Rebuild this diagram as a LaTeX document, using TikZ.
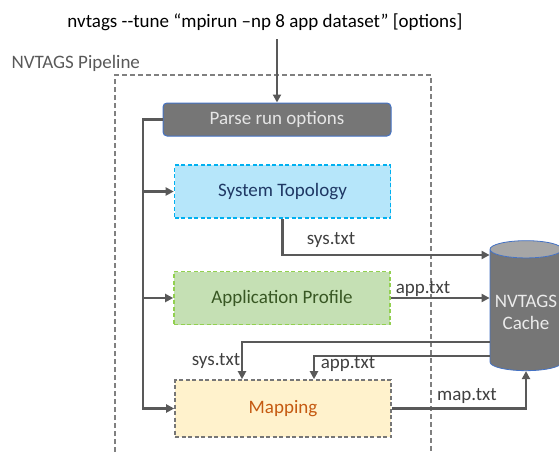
\documentclass[tikz,border=0pt]{standalone}
\usepackage{fontspec}
\setmainfont{Carlito}
\newfontfamily\cmdfont{Carlito}
\usepackage{tikz}
\usetikzlibrary{positioning,arrows.meta,shapes.geometric}
\definecolor{linegray}{RGB}{89,89,89}
\definecolor{parsefill}{RGB}{118,118,118}
\definecolor{parseedge}{RGB}{68,114,196}
\definecolor{topofill}{RGB}{182,230,250}
\definecolor{topoedge}{RGB}{0,176,240}
\definecolor{topotext}{RGB}{31,56,100}
\definecolor{proffill}{RGB}{197,224,180}
\definecolor{profedge}{RGB}{146,208,80}
\definecolor{proftext}{RGB}{56,87,35}
\definecolor{mapfill}{RGB}{255,242,204}
\definecolor{maptext}{RGB}{197,90,17}
\definecolor{cachetop}{RGB}{166,166,166}

\begin{document}
\begin{tikzpicture}[x=1pt, y=-1pt, font=\fontsize{19}{22}\selectfont,
    >={Triangle[length=8pt, width=8pt]},
    conn/.style={draw=linegray, line width=2.5pt},
    stage/.style={dash pattern=on 4pt off 2.5pt, line width=1.6pt, minimum width=216pt,
                  minimum height=53pt, align=center},
    lbl/.style={text=black!75}]
  \useasboundingbox (0,0) rectangle (559,453);
  % command line and pipeline frame
  \node[font=\cmdfont\fontsize{19}{22}\selectfont] (cmd) at (265,22) {nvtags --tune “mpirun –np 8 app dataset” [options]};
  \node[text=linegray, anchor=west] (pipe) at (8,63) {NVTAGS Pipeline};
  \draw[dash pattern=on 5pt off 3pt, draw=black!50, line width=1.3pt]
    (115,460) -- (115,75) -- (431,75) -- (431,460);
  % stages
  \node[draw=parseedge, fill=parsefill, text=black!10, rounded corners=4pt, line width=1pt,
        minimum width=228pt, minimum height=33pt] (parse) at (277,119.5) {Parse run options};
  \node[stage, draw=topoedge, fill=topofill, text=topotext] (topo) at (282.5,191.5) {System Topology};
  \node[stage, draw=profedge, fill=proffill, text=proftext] (prof) at (282,298) {Application Profile};
  \node[stage, draw=parsefill, fill=mapfill, text=maptext, minimum height=57pt] (map) at (283,408.5) {Mapping};
  \node[cylinder, shape border rotate=90, aspect=0.25, draw=parseedge, line width=0.8pt,
        cylinder uses custom fill, cylinder body fill=parsefill, cylinder end fill=cachetop,
        minimum width=72pt, minimum height=130pt, align=center, text=black!8] (cache) at (526,312) {NVTAGS\\ Cache};
  \coordinate (bus) at (143,0);
  % connectors
  \draw[conn, ->] (parse.north |- 0,39) -- (parse.north);
  \draw[conn, ->] (parse.west) -| (bus |- map.west) -- (map.west);
  \draw[conn, ->] (bus |- topo.west) -- (topo.west);
  \draw[conn, ->] (bus |- prof.west) -- (prof.west);
  \draw[conn, ->] (topo.south) |- (cache.west |- 0,255);
  \draw[conn, ->] (prof.east) -- (cache.west |- prof.east);
  \draw[conn, ->] (cache.west |- 0,342) -| (map.north -| 242,0);
  \draw[conn, ->] (cache.west |- 0,356) -| (map.north -| 314,0);
  \draw[conn, ->] (map.east) -| (cache.south);
  % file labels
  \node[lbl] (sysa) at (331,240) {sys.txt};
  \node[lbl] (appa) at (423,289) {app.txt};
  \node[lbl] (sysb) at (216,361) {sys.txt};
  \node[lbl] (appb) at (348,364) {app.txt};
  \node[lbl] (mapo) at (467,396) {map.txt};
\end{tikzpicture}
\end{document}
